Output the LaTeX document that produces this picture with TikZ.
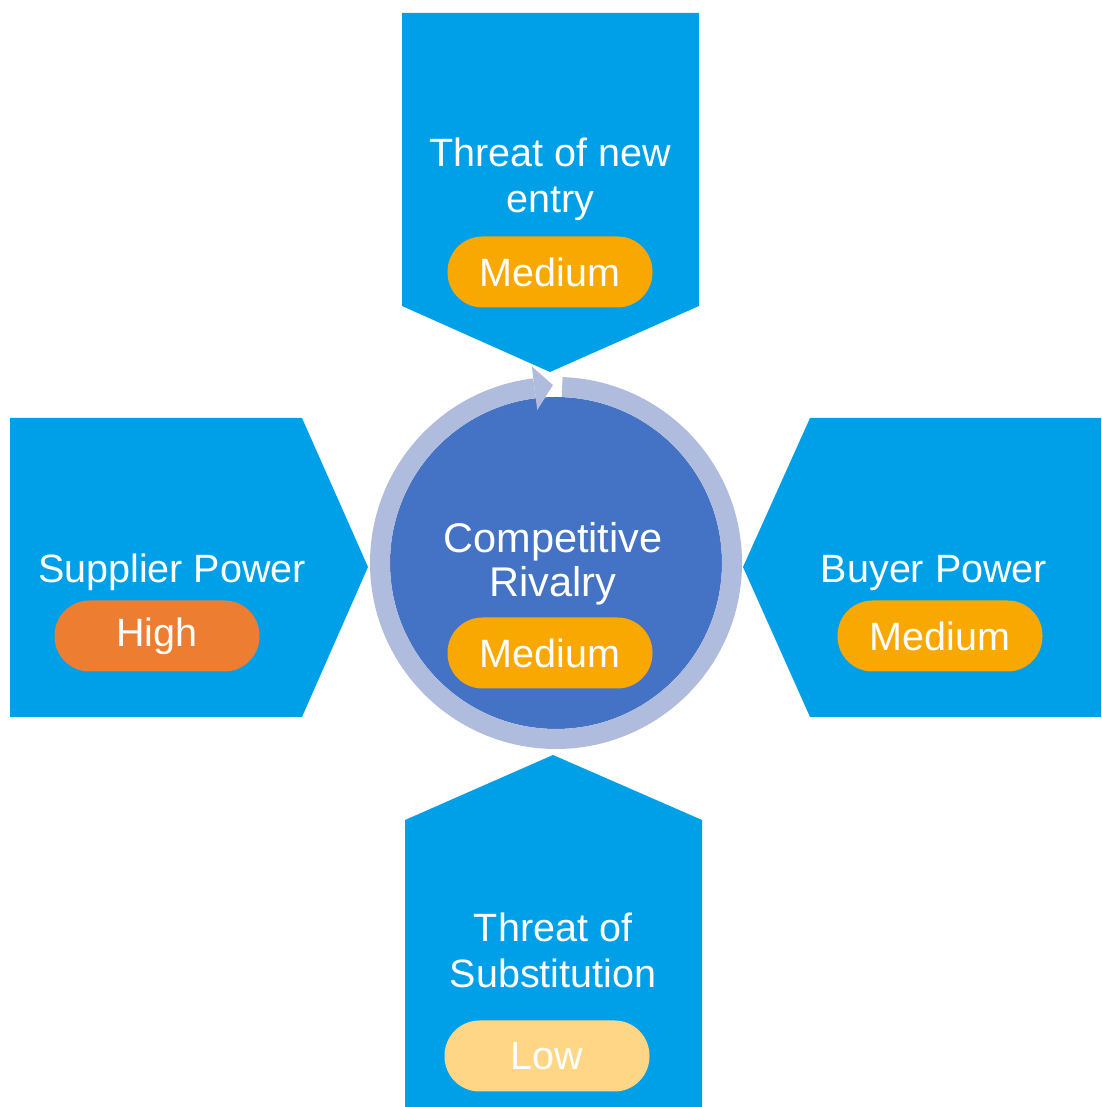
\documentclass[tikz,border=0pt]{standalone}
\usepackage{fontspec}
\setmainfont{Liberation Sans}
\definecolor{pentblue}{RGB}{0,160,233}
\definecolor{circblue}{RGB}{68,114,196}
\definecolor{ringblue}{RGB}{176,188,221}
\definecolor{medorange}{RGB}{248,168,0}
\definecolor{highorange}{RGB}{237,125,49}
\definecolor{lowyellow}{RGB}{255,214,134}
\begin{document}
\begin{tikzpicture}[x=1pt,y=1pt,
  pent/.style={fill=pentblue,draw=none},
  label/.style={text=white,font=\fontsize{39.5}{46}\selectfont,align=center,inner sep=0pt},
  pill/.style={rectangle,rounded corners=35pt,minimum width=205pt,minimum height=71pt,text=white,
    font=\fontsize{39.5}{46}\selectfont,inner sep=0pt}]
\useasboundingbox (0,0) rectangle (1101,1107);
% pentagons
\fill[pent] (402,1094) -- (699,1094) -- (699,801) -- (550,735) -- (402,801) -- cycle;
\fill[pent] (405,0) -- (702,0) -- (702,287) -- (553,352) -- (405,287) -- cycle;
\fill[pent] (10,689) -- (302,689) -- (368,540) -- (302,390) -- (10,390) -- cycle;
\fill[pent] (1101,689) -- (810,689) -- (743,540) -- (810,390) -- (1101,390) -- cycle;
% central circle
\coordinate (c) at (556,544);
\fill[circblue] (c) circle[radius=166];
\draw[ringblue,line width=20pt] ([shift={(88:176)}]c) arc[start angle=88,end angle=-263,radius=176];
\fill[ringblue] ([shift={(97:154)}]c) -- ([shift={(97:198)}]c) -- ([shift={(91:178)}]c) -- cycle;
% texts
\node[label,anchor=base] (tnew) at (550,894) {Threat of new\\entry};
\node[pill,fill=medorange] (pnew) at (550,835) {Medium};
\node[label,anchor=base] (tsup) at (172,524) {Supplier Power};
\node[pill,fill=highorange] (psup) at (157,471) {High};
\node[label,anchor=base] (tbuy) at (934,524) {Buyer Power};
\node[pill,fill=medorange] (pbuy) at (940,471) {Medium};
\node[label,anchor=base,font=\fontsize{41.5}{44}\selectfont] (triv) at (553,510) {Competitive\\Rivalry};
\node[pill,fill=medorange] (priv) at (550,454) {Medium};
\node[label,anchor=base] (tsub) at (553,119) {Threat of\\Substitution};
\node[pill,fill=lowyellow] (psub) at (547,51) {Low};
\end{tikzpicture}
\end{document}
